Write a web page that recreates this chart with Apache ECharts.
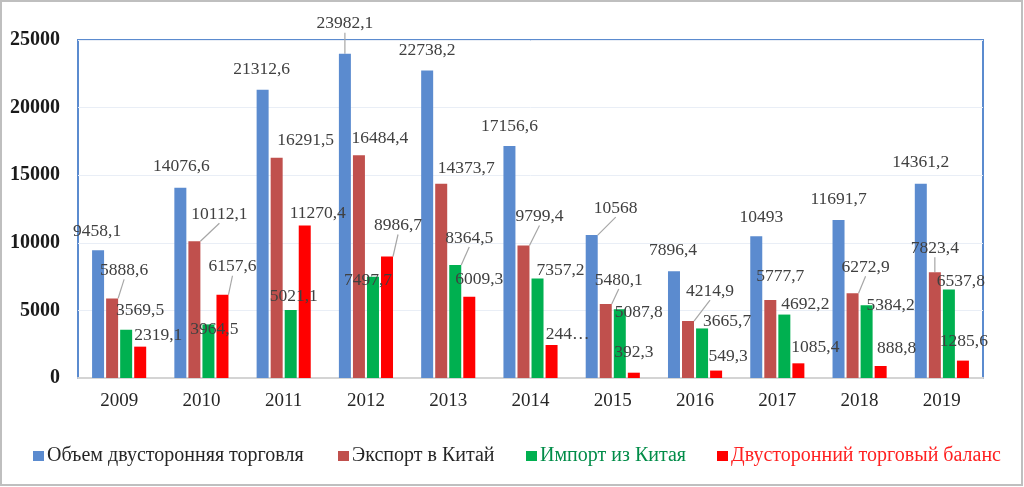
<!DOCTYPE html>
<html>
<head>
<meta charset="utf-8">
<script src="https://cdn.jsdelivr.net/npm/echarts@6/dist/echarts.min.js"></script>
<style>
html,body{margin:0;padding:0;background:#fff;}
#chart{width:1024px;height:487px;}
</style>
</head>
<body>
<div id="chart"></div>
<script>
// ---- data ----
var years = ['2009','2010','2011','2012','2013','2014','2015','2016','2017','2018','2019'];
var seriesNames = ['Объем двусторонняя торговля','Экспорт в Китай','Импорт из Китая','Двусторонний торговый баланс'];
var tradeVolume = [9458.1,14076.6,21312.6,23982.1,22738.2,17156.6,10568,7896.4,10493,11691.7,14361.2];
var exportToChina = [5888.6,10112.1,16291.5,16484.4,14373.7,9799.4,5480.1,4214.9,5777.7,6272.9,7823.4];
var importFromChina = [3569.5,3964.5,5021.1,7497.7,8364.5,7357.2,5087.8,3665.7,4692.2,5384.2,6537.8];
var tradeBalance = [2319.1,6157.6,11270.4,8986.7,6009.3,2442.2,392.3,549.3,1085.4,888.8,1285.6];
var yTicks = [0,5000,10000,15000,20000,25000];
// label text overrides (as truncated in the original)
var labelOverrides = {'3-5':'244…'};

// ---- label placement nudges (style, not data) ----
var nudges = [
  [[-1,-5],[1,-7],[-1,-6],[0,-16],[0,-6],[0,-6],[24,-13],[-1,-7],[5,-5],[0,-7],[0,-7]],
  [[12,-14],[25,-13],[29,-3],[21,-3],[25,-1],[16,-15],[13,-10],[22,-16],[10,-9],[13,-12],[0,-10]],
  [[14,-5],[6,19],[3,0],[-5,18],[14,-13],[23,6],[19,17],[25,7],[21,4],[24,14],[12,6]],
  [[18,3],[10,-14],[13,2],[11,-17],[10,-3],[16,3],[0,-6],[12,0],[17,-2],[16,-4],[1,-5]]
];
var leaderLines = [[3,6],[0,1,5,6,7,9,10],[4],[1,3]];

var colors = ['#5B8BCF','#C0504D','#00B050','#FF0000'];
var legendTextColors = ['#262626','#262626','#008C48','#FF2020'];
var legendLeft = [28,333,521,712];
var allValues = [tradeVolume, exportToChina, importFromChina, tradeBalance];

var chart = echarts.init(document.getElementById('chart'));

function fmt(p){
  var key = p.seriesIndex + '-' + p.dataIndex;
  if (labelOverrides[key]) return labelOverrides[key];
  return String(p.value).replace('.', ',');
}

var series = allValues.map(function(vals, si){
  return {
    name: seriesNames[si],
    type: 'bar',
    barWidth: 12,
    barGap: '17%',
    itemStyle: {color: colors[si]},
    data: vals.map(function(v, di){
      var item = {value: v};
      if (leaderLines[si].indexOf(di) >= 0) {
        item.labelLine = {show: true, lineStyle: {color: '#A6A6A6', width: 1.2}};
      }
      return item;
    }),
    label: {
      show: true,
      position: 'top',
      distance: 5,
      formatter: fmt,
      fontFamily: 'Liberation Serif',
      fontSize: 17.5,
      color: '#404040'
    },
    labelLine: {show: false, lineStyle: {color: '#A6A6A6', width: 1.2}},
    labelLayout: function(params){
      var n = nudges[params.seriesIndex][params.dataIndex];
      return {dx: n[0], dy: n[1]};
    },
    z: 2
  };
});

var legends = seriesNames.map(function(name, i){
  return {
    left: legendLeft[i],
    top: 441,
    itemWidth: 11,
    itemHeight: 10,
    icon: 'rect',
    itemGap: 0,
    data: [{name: name, textStyle: {color: legendTextColors[i]}}],
    textStyle: {fontFamily: 'Liberation Serif', fontSize: 20, padding: [0,0,0,-2]}
  };
});

chart.setOption({
  animation: false,
  backgroundColor: '#ffffff',
  color: colors,
  grid: {
    left: 78, right: 41, top: 40, bottom: 109,
    show: true, borderColor: '#5B8BCF', borderWidth: 2, backgroundColor: 'transparent'
  },
  legend: legends,
  xAxis: {
    type: 'category',
    data: years,
    axisTick: {show: false},
    axisLine: {show: true, lineStyle: {color: '#D4D4D4', width: 2}},
    axisLabel: {fontFamily: 'Liberation Serif', fontSize: 19, color: '#262626', margin: 14}
  },
  yAxis: {
    type: 'value',
    min: yTicks[0],
    max: yTicks[yTicks.length - 1],
    interval: yTicks[1] - yTicks[0],
    axisLine: {show: false},
    axisTick: {show: false},
    splitLine: {lineStyle: {color: '#E9EEF6', width: 1}},
    axisLabel: {
      fontFamily: 'Liberation Serif', fontSize: 20, fontWeight: 'bold', color: '#1A1A1A', margin: 18,
      formatter: function(v){ return String(v); }
    }
  },
  graphic: [{
    type: 'rect',
    shape: {x: 1, y: 1, width: 1021, height: 484},
    style: {fill: 'none', stroke: '#BFBFBF', lineWidth: 2},
    silent: true
  }],
  series: series
});
</script>
</body>
</html>
